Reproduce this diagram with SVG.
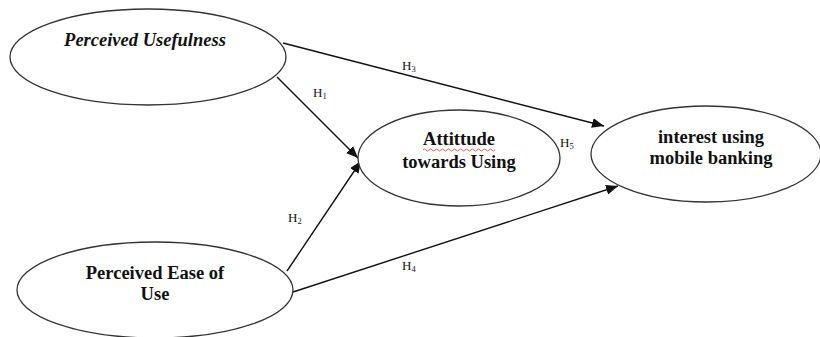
<svg xmlns="http://www.w3.org/2000/svg" width="820" height="337" viewBox="0 0 820 337">
  <style>
    .node ellipse { fill: #ffffff; stroke: #333333; stroke-width: 1.3; }
    .lbl { font-family: "Liberation Serif", "Times New Roman", serif; font-weight: bold; font-size: 18.5px; fill: #111111; text-anchor: middle; }
    .hyp { font-family: "Liberation Serif", "Times New Roman", serif; font-size: 13px; fill: #111111; }
    .edge { stroke: #111111; stroke-width: 1.4; fill: none; marker-end: url(#arrow); }
  </style>
  <defs>
    <marker id="arrow" viewBox="0 0 12 10" refX="12" refY="5" markerWidth="12" markerHeight="10" markerUnits="userSpaceOnUse" orient="auto">
      <path d="M0,0 L12,5 L0,10 z" fill="#111111"/>
    </marker>
  </defs>
  <rect width="820" height="337" fill="#ffffff"/>

  <g id="connectors">
    <line class="edge" x1="283" y1="43" x2="604" y2="126"/>
    <line class="edge" x1="277" y1="77" x2="358" y2="158"/>
    <line class="edge" x1="287" y1="271" x2="361" y2="161"/>
    <line class="edge" x1="293" y1="292" x2="618" y2="186"/>
  </g>

  <g id="labels">
    <text class="hyp" x="402" y="70">H<tspan font-size="8.5" dy="2">3</tspan></text>
    <text class="hyp" x="313" y="97">H<tspan font-size="8.5" dy="2">1</tspan></text>
    <text class="hyp" x="560" y="147">H<tspan font-size="8.5" dy="2">5</tspan></text>
    <text class="hyp" x="288" y="222">H<tspan font-size="8.5" dy="2">2</tspan></text>
    <text class="hyp" x="402" y="270">H<tspan font-size="8.5" dy="2">4</tspan></text>
  </g>

  <g id="perceived-usefulness" class="node">
    <ellipse cx="148" cy="57" rx="138" ry="48"/>
    <text class="lbl" x="145" y="46" font-style="italic">Perceived Usefulness</text>
  </g>

  <g id="perceived-ease" class="node">
    <ellipse cx="155" cy="290" rx="138" ry="48"/>
    <text class="lbl" x="155" y="279">Perceived Ease of</text>
    <text class="lbl" x="155" y="300">Use</text>
  </g>

  <g id="attitude" class="node">
    <ellipse cx="459" cy="158" rx="101" ry="48"/>
    <text class="lbl" x="459" y="145">Attittude</text>
    <path d="M423,150 q1.5,-2 3,0 t3,0 t3,0 t3,0 t3,0 t3,0 t3,0 t3,0 t3,0 t3,0 t3,0 t3,0 t3,0 t3,0 t3,0 t3,0 t3,0 t3,0 t3,0 t3,0 t3,0 t3,0 t3,0 t3,0" fill="none" stroke="#e03030" stroke-width="0.8"/>
    <text class="lbl" x="459" y="168">towards Using</text>
  </g>

  <g id="interest" class="node">
    <ellipse cx="706" cy="154" rx="115" ry="48"/>
    <text class="lbl" x="711" y="143">interest using</text>
    <text class="lbl" x="711" y="164">mobile banking</text>
  </g>
</svg>
